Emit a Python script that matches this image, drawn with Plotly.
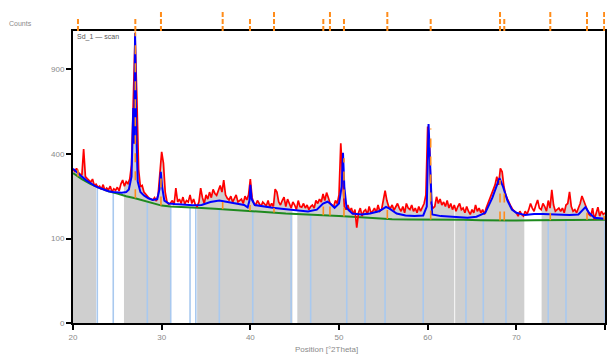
import numpy as np
import plotly.graph_objects as go

# ---------------- data (counts) ----------------
x_start = 20.0
x_step = 0.2
observed = [
    330, 322, 335, 318, 310,   305, 424, 300, 292, 285,
    278, 290, 265, 270, 258,   262, 250, 268, 245, 255,
    248, 262, 240, 252, 246,   258, 244, 270, 286, 262,
    280, 272, 290, 350, 650,   1150, 715, 330, 260, 265,
    240, 230, 225, 218, 215,   212, 220, 208, 230, 300,
    410, 358, 240, 205, 198,   202, 210, 195, 255, 205,
    215, 200, 222, 198, 210,   205, 230, 200, 215, 195,
    190, 205, 255, 220, 200,   230, 215, 240, 220, 250,
    235, 228, 250, 265, 240,   286, 230, 218, 212, 225,
    205, 215, 230, 205, 210,   215, 200, 225, 212, 230,
    290, 220, 200, 195, 210,   200, 190, 205, 198, 192,
    210, 188, 200, 190, 251,   240, 205, 195, 210, 222,
    190, 215, 200, 185, 205,   195, 180, 210, 190, 188,
    200, 185, 195, 180, 190,   195, 185, 210, 200, 215,
    205, 233, 210, 238, 220,   200, 195, 190, 210, 200,
    230, 452, 300, 190, 180,   195, 175, 185, 165, 180,
    127, 170, 185, 160, 175,   180, 165, 190, 170, 175,
    185, 170, 195, 175, 180,   215, 245, 210, 190, 185,
    195, 178, 190, 200, 185,   175, 190, 170, 200, 185,
    180, 195, 175, 185, 170,   190, 175, 185, 200, 230,
    540, 452, 200, 185, 190,   223, 200, 215, 195, 205,
    190, 210, 185, 200, 180,   195, 175, 190, 200, 180,
    185, 170, 190, 175, 165,   180, 170, 195, 175, 185,
    170, 180, 165, 185, 200,   210, 230, 250, 267, 300,
    267, 335, 320, 260, 230,   215, 200, 190, 180, 175,
    170, 160, 175, 165, 160,   175, 165, 180, 200, 185,
    175, 195, 212, 185, 180,   200, 190, 175, 210, 185,
    248, 195, 175, 180, 185,   175, 185, 170, 195, 200,
    241, 190, 175, 180, 170,   185, 200, 226, 210, 190,
    175, 165, 160, 185, 150,   170, 188, 160, 175, 165,
    170,
]

calc_x = [20, 20.5, 21, 21.5, 22, 22.5, 23, 23.5, 24, 24.5, 25, 25.5, 26, 26.3, 26.6,
          26.8, 26.9, 27.0, 27.15, 27.3, 27.6, 28.0, 28.5, 29.0, 29.5, 29.75, 29.9,
          30.05, 30.3, 30.8, 31.5, 32.5, 33.5, 34.5, 35.5, 36.5, 37.5, 38.5, 39.3,
          39.7, 39.9, 40.0, 40.15, 40.5, 41.5, 42.5, 43.5, 44.5, 45.5, 46.5, 47.5,
          48.2, 48.7, 49.0, 49.5, 50.0, 50.3, 50.45, 50.6, 50.85, 51.5, 52.5, 53.5,
          54.5, 55.0, 55.3, 55.7, 56.5, 57.5, 58.5, 59.5, 59.9, 60.1, 60.3, 60.5,
          61.5, 62.5, 63.5, 64.5, 65.5, 66.5, 67.3, 67.8, 68.1, 68.5, 69.0, 69.5,
          70.0, 71.0, 72.0, 73.0, 74.0, 75.0, 76.0, 77.0, 77.5, 77.8, 78.2, 78.8, 80]
calc_y = [333, 318, 300, 285, 272, 262, 255, 248, 243, 240, 238, 238, 240, 250, 300,
          647, 450, 1178, 500, 280, 240, 228, 218, 212, 215, 250, 320,
          260, 210, 200, 198, 196, 194, 195, 205, 210, 205, 200, 195,
          187, 210, 267, 215, 195, 190, 186, 183, 180, 176, 174, 180,
          200, 206, 200, 186, 200, 260, 406, 260, 185, 168, 165, 168,
          175, 183, 189, 183, 168, 162, 160, 162, 190, 555, 300, 165,
          160, 158, 156, 155, 158, 170, 220, 270, 294, 260, 210, 180,
          170, 163, 166, 166, 165, 164, 163, 165, 180, 188, 170, 155, 152]

bg_x = [20, 21, 22, 23, 24, 25, 26, 27, 28, 29, 30, 31, 32, 34, 36, 38, 40, 42, 44,
        46, 48, 50, 52, 54, 56, 58, 60, 62, 64, 66, 68, 70, 72, 74, 76, 78, 80]
bg_y = [315, 290, 270, 255, 243, 235, 225, 218, 210, 200, 193, 190, 188, 186, 183,
        180, 176, 172, 168, 166, 163, 160, 157, 153, 151, 150, 150, 151, 149, 148,
        147, 147, 148, 148, 148, 149, 149]

peak_pos = [20.56, 27.03, 29.92, 36.88, 39.96, 42.67, 48.23, 48.98, 50.56, 55.45,
            60.34, 68.16, 68.64, 73.83, 77.97, 79.9]
peak_top = [330, 1190, 300, 205, 195, 185, 190, 195, 380, 195, 530, 286, 240, 170, 170, 160]
peak_tall = [False, False, True, True, False, True, False, True, False, True,
             False, True, False, True, True, True]

marker_pos = [22.74, 24.54, 28.38, 31.02, 33.2, 33.85, 36.5, 40.27, 44.6, 46.8,
              50.87, 52.93, 55.19, 59.5, 64.32, 66.27, 68.83, 73.6, 75.6, 80.0]

included = [(20.0, 22.6), (25.75, 31.05), (34.0, 44.75), (45.3, 63.0),
            (63.1, 70.9), (72.85, 80.0)]

y_ticks = [0, 100, 400, 900]
x_ticks = [20, 30, 40, 50, 60, 70, 80]
legend_label = "Sd_1 \u2014 scan"

# ---------------- build ----------------
obs = np.array(observed, float)
xo = x_start + x_step * np.arange(len(obs))
f = np.sqrt  # square-root intensity scale

fig = go.Figure()

for a, b in included:
    m = (xo > a) & (xo < b)
    xs = np.concatenate([[a], xo[m], [b]])
    ys = np.concatenate([[np.interp(a, xo, obs)], obs[m], [np.interp(b, xo, obs)]])
    fig.add_trace(go.Scatter(x=xs, y=f(ys), mode="lines", line=dict(width=0),
                             fill="tozeroy", fillcolor="#cfcfcf", hoverinfo="skip",
                             showlegend=False))

mx, my = [], []
for p in marker_pos:
    mx += [p, p, None]
    my += [0, f(np.interp(p, bg_x, bg_y)), None]
fig.add_trace(go.Scatter(x=mx, y=my, mode="lines", line=dict(color="#a9c9ef", width=1.6),
                         showlegend=False, hoverinfo="skip"))

fig.add_trace(go.Scatter(x=bg_x, y=f(np.array(bg_y, float)), mode="lines",
                         line=dict(color="#1f8a1f", width=2), showlegend=False))

fig.add_trace(go.Scatter(x=xo, y=f(obs), mode="lines",
                         line=dict(color="#ff0000", width=1.7), showlegend=False))

fig.add_trace(go.Scatter(x=calc_x, y=f(np.array(calc_y, float)), mode="lines",
                         line=dict(color="#0000ff", width=2), showlegend=False))

sx, sy = [], []
for p, t in zip(peak_pos, peak_top):
    sx += [p, p, None]
    sy += [f(np.interp(p, bg_x, bg_y)), f(t), None]
fig.add_trace(go.Scatter(x=sx, y=sy, mode="lines",
                         line=dict(color="#ff8c1a", width=1.6, dash="dash"),
                         showlegend=False, hoverinfo="skip"))

for p, tall in zip(peak_pos, peak_tall):
    fig.add_shape(type="line", xref="x", yref="paper", x0=p, x1=p,
                  y0=1.0, y1=1.066 if tall else 1.048,
                  line=dict(color="#ff8c1a", width=2, dash="5px,2px"))

ymax = f(1194)
fig.update_layout(
    width=609, height=356,
    margin=dict(l=73, r=4, t=31, b=33),
    paper_bgcolor="white", plot_bgcolor="white",
    font=dict(family="Liberation Sans, Arial, sans-serif", size=8, color="#8a8a8a"),
    xaxis=dict(range=[20, 80], tickvals=x_ticks, ticktext=[str(v) for v in x_ticks],
               ticks="outside", ticklen=5, tickwidth=1.5, tickcolor="black",
               showline=True, linecolor="black", linewidth=2, mirror=True,
               showgrid=False, zeroline=False, automargin=False,
               tickfont=dict(size=8, color="#8a8a8a")),
    yaxis=dict(range=[0, ymax], tickvals=[f(v) for v in y_ticks],
               ticktext=[str(v) for v in y_ticks],
               ticks="outside", ticklen=5, tickwidth=1.5, tickcolor="black",
               showline=True, linecolor="black", linewidth=2, mirror=True,
               showgrid=False, zeroline=False, automargin=False,
               tickfont=dict(size=8, color="#8a8a8a")),
    annotations=[
        dict(text="Counts", xref="paper", yref="paper", x=-0.124, y=1.027,
             xanchor="left", yanchor="middle", showarrow=False,
             font=dict(size=7, color="#8a8a8a")),
        dict(text="Position [\u00b02Theta]", xref="paper", yref="paper", x=0.477, y=-0.092,
             xanchor="center", yanchor="middle", showarrow=False,
             font=dict(size=8, color="#8a8a8a")),
        dict(text=legend_label, xref="paper", yref="paper", x=0.003, y=1.0,
             xanchor="left", yanchor="top", showarrow=False,
             font=dict(size=7, color="#555555")),
    ],
)

fig.write_html(
    "out.html",
    config={"displayModeBar": False},
    post_script="document.body.style.margin='0';document.body.style.overflow='hidden';",
)
